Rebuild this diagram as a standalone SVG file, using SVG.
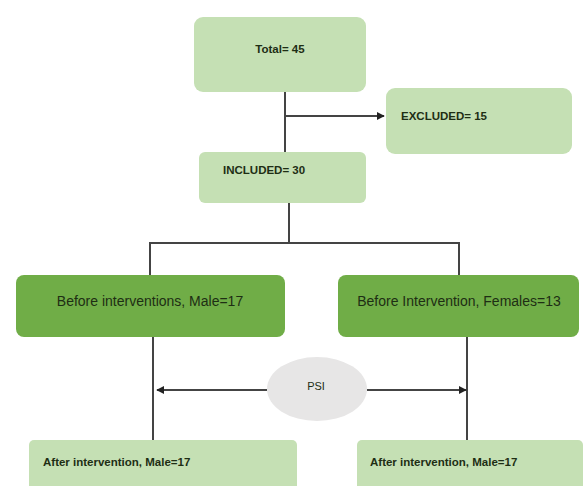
<svg xmlns="http://www.w3.org/2000/svg" width="586" height="486" viewBox="0 0 586 486">
<defs>
<marker id="ah" viewBox="0 0 10 10" refX="9" refY="5" markerWidth="4" markerHeight="4" orient="auto-start-reverse">
<path d="M0,0 L10,5 L0,10 z" fill="#222"/>
</marker>
<style>
.light{fill:#c5e0b4;}
.dark{fill:#70ad47;}
.t{font-family:"Liberation Sans",Arial,sans-serif;fill:#1e2e14;}
.b{font-weight:bold;font-size:11.5px;}
.r{font-size:14px;}
.ln{stroke:#444;stroke-width:2;fill:none;}
</style>
</defs>
<rect width="586" height="486" fill="#ffffff"/>
<g id="connectors">
<path class="ln" d="M285,92 V152"/>
<path class="ln" d="M285,116 H384" marker-end="url(#ah)"/>
<path class="ln" d="M289,203 V243"/>
<path class="ln" d="M150,275 V243 H459 V275"/>
<path class="ln" d="M153,337 V440"/>
<path class="ln" d="M467,337 V440"/>
<path class="ln" d="M267,390 H157" marker-end="url(#ah)"/>
<path class="ln" d="M367,390 H466" marker-end="url(#ah)"/>
</g>
<g id="total">
<rect class="light" x="194" y="17" width="172" height="75" rx="9"/>
<text class="t b" x="280" y="53" text-anchor="middle">Total= 45</text>
</g>
<g id="excluded">
<rect class="light" x="386" y="88" width="186" height="66" rx="9"/>
<text class="t b" x="401" y="120">EXCLUDED= 15</text>
</g>
<g id="included">
<rect class="light" x="199" y="152" width="167" height="51" rx="6"/>
<text class="t b" x="223" y="174">INCLUDED= 30</text>
</g>
<g id="before-male">
<rect class="dark" x="16" y="275" width="269" height="62" rx="8"/>
<text class="t r" x="150" y="306" text-anchor="middle">Before interventions, Male=17</text>
</g>
<g id="before-female">
<rect class="dark" x="338" y="275" width="241" height="62" rx="8"/>
<text class="t r" x="459" y="306" text-anchor="middle">Before Intervention, Females=13</text>
</g>
<g id="psi">
<ellipse cx="317" cy="389" rx="50" ry="32" fill="#e7e6e6"/>
<text class="t" x="316" y="390" font-size="11" text-anchor="middle">PSI</text>
</g>
<g id="after-male">
<rect class="light" x="29" y="440" width="268" height="56" rx="5"/>
<text class="t b" x="43" y="466" font-size="13px">After intervention, Male=17</text>
</g>
<g id="after-female">
<rect class="light" x="357" y="440" width="226" height="56" rx="5"/>
<text class="t b" x="370" y="466" font-size="13px">After intervention, Male=17</text>
</g>
</svg>
